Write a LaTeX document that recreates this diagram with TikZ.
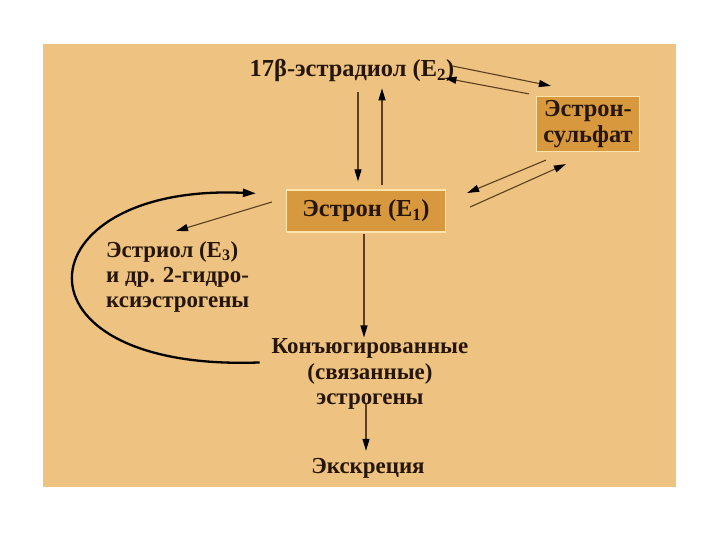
\documentclass[tikz,border=0pt]{standalone}
\usepackage{fontspec}
\setmainfont{Liberation Serif}
\usetikzlibrary{positioning, calc, arrows.meta}
\definecolor{panelbg}{RGB}{238,194,128}
\definecolor{boxfill}{RGB}{216,152,62}
\definecolor{boxedge}{RGB}{250,228,172}
\definecolor{linebrown}{RGB}{92,62,32}
\definecolor{inkdark}{RGB}{38,22,10}

\begin{document}
\begin{tikzpicture}[
        x=1bp, y=-1bp,
        label/.style={font=\fontsize{23}{25.5}\selectfont\bfseries, text=inkdark, inner sep=0pt},
        hbox/.style={rectangle, draw=boxedge, line width=1.2bp, fill=boxfill, align=center,
                     font=\fontsize{24.5}{26}\selectfont\bfseries, text=inkdark},
        arrow/.style={-{Triangle[length=12bp, width=7bp, color=black]}, draw=linebrown, line width=1.1bp},
        loop/.style={-{Triangle[length=13bp, width=8bp]}, draw=black, line width=2.3bp},
    ]

    \useasboundingbox (0,0) rectangle (720,540);
    \fill[white] (0,0) rectangle (720,540);
    \fill[panelbg] (43,44) rectangle (676,487);

    % ===== Main species =====
    \node[label, font=\fontsize{24.5}{26}\selectfont\bfseries] (E2) at (352,71) {17β-эстрадиол (E\textsubscript{2})};

    \node[hbox, minimum width=159bp, minimum height=42bp] (E1) at (366,211) {Эстрон (E\textsubscript{1})};

    \node[hbox, minimum width=103bp, minimum height=55bp, inner sep=1bp] (SULF) at (588,124) {Эстрон-\\сульфат};

    \node[label, align=left, anchor=west] (E3) at (106,277)
        {Эстриол (E\textsubscript{3})\\и др. 2-гидро-\\ксиэстрогены};

    \node[label, align=center] (CONJ) at (370,374)
        {Конъюгированные\\(связанные)\\эстрогены};

    \node[label] (EXC) at (368,468) {Экскреция};

    % ===== E2 <-> E1 =====
    \draw[arrow] ($(E2.south)+(6,10)$) -- ($(E1.north)+(-8,-8)$);
    \draw[arrow] ($(E1.north)+(16,-4)$) -- ($(E2.south)+(30,6)$);

    % ===== E2 <-> sulfate =====
    \draw[arrow] ($(E2.east)+(-2,-5)$) -- ($(SULF.north west)+(15,-10)$);
    \draw[arrow] ($(SULF.north west)+(-7,-2)$) -- ($(E2.east)+(-10,7)$);

    % ===== sulfate <-> E1 =====
    \draw[arrow] ($(SULF.south west)+(10,8)$) -- ($(E1.east)+(21,-18)$);
    \draw[arrow] ($(E1.east)+(24,-4)$) -- ($(SULF.south west)+(30,12)$);

    % ===== E1 -> E3, E1 -> conjugates -> excretion =====
    \draw[arrow] ($(E1.west)+(-14,-9)$) -- ($(E3.north west)+(70,-10)$);
    \draw[arrow] ($(E1.south)+(-2,1)$) -- ($(CONJ.north)+(-6,-1)$);
    \draw[arrow] ($(CONJ.south)+(-4,-6)$) -- ($(EXC.north)+(-2,-7)$);

    % ===== return loop =====
    \coordinate (LS) at ($(CONJ.north west)+(-12,24)$);
    \coordinate (LE) at ($(E1.north west)+(-30,4)$);
    \draw[loop] (LS) .. controls (2,372) and (22,183) .. (LE);

\end{tikzpicture}
\end{document}
